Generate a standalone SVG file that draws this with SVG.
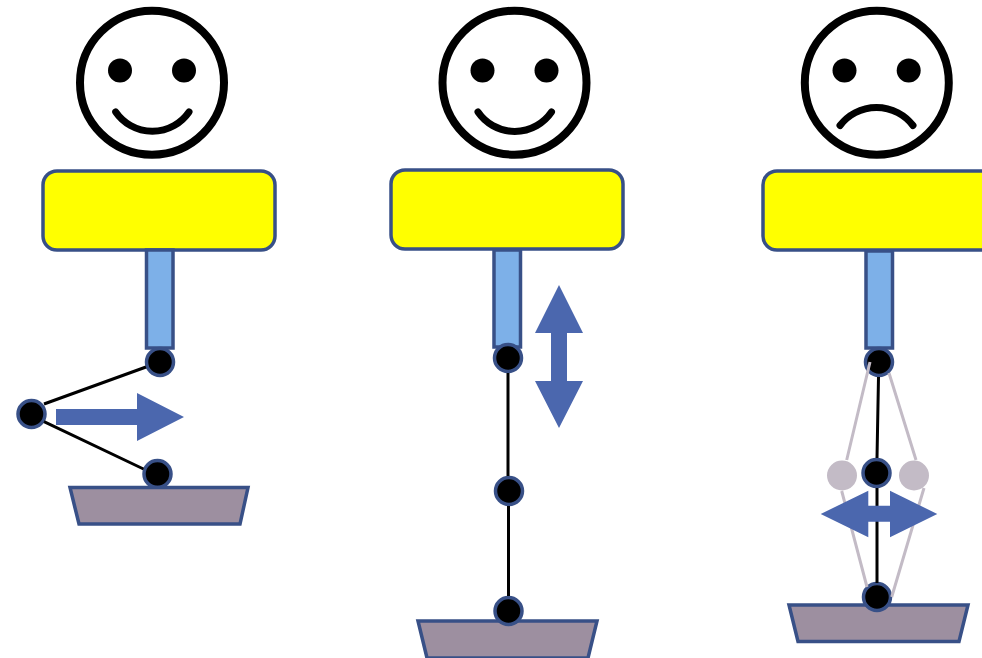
<svg xmlns="http://www.w3.org/2000/svg" width="982" height="658" viewBox="0 0 982 658">
<style>
.head{fill:none;stroke:#000;stroke-width:8}
.eye{fill:#000}
.mouth{fill:none;stroke:#000;stroke-width:7;stroke-linecap:round}
.body{fill:#ff0;stroke:#385087;stroke-width:3.5}
.shaft{fill:#7DB0E8;stroke:#385087;stroke-width:3.500}
.joint{fill:#000;stroke:#385087;stroke-width:3.500}
.ghost{fill:#C3BBC6}
.base{fill:#9D8FA0;stroke:#385087;stroke-width:3.500}
.arrow{fill:#4B67AE}
.link{fill:none;stroke:#000;stroke-width:3}
.glink{fill:none;stroke:#C3BBC6;stroke-width:3}
</style>
<rect width="982" height="658" fill="#fff"/>
<g id="face-1"><circle class="head" cx="152" cy="82.700" r="72"/><circle class="eye" cx="120" cy="70.500" r="12"/><circle class="eye" cx="184" cy="70.500" r="12"/><path class="mouth" d="M115.700 112A44.500 44.500 0 0 0 189 112"/></g>
<g id="face-2"><circle class="head" cx="514.500" cy="82.700" r="72"/><circle class="eye" cx="482.500" cy="70.500" r="12"/><circle class="eye" cx="546.500" cy="70.500" r="12"/><path class="mouth" d="M478 112A44.500 44.500 0 0 0 551.500 112"/></g>
<g id="face-3"><circle class="head" cx="876.800" cy="82.700" r="72"/><circle class="eye" cx="844.500" cy="70.500" r="12"/><circle class="eye" cx="908.700" cy="70.500" r="12"/><path class="mouth" d="M840 125.500A46 46 0 0 1 913 125.500"/></g>

<g id="body-1"><rect class="body" x="43" y="171" width="232" height="79" rx="14"/></g>
<g id="body-2"><rect class="body" x="391" y="170" width="232" height="79" rx="14"/></g>
<g id="body-3"><rect class="body" x="763" y="171" width="232" height="79" rx="14"/></g>

<g id="shaft-1"><rect class="shaft" x="146.500" y="250" width="26.500" height="98"/></g>
<g id="shaft-2"><rect class="shaft" x="494" y="250" width="26.500" height="97"/></g>
<g id="shaft-3"><rect class="shaft" x="866" y="251" width="26.500" height="97"/></g>

<g id="joint-1a"><circle class="joint" cx="160" cy="362" r="13.500"/></g>
<g id="joint-1b"><circle class="joint" cx="31.500" cy="414" r="13.500"/></g>
<g id="joint-1c"><circle class="joint" cx="157.500" cy="474" r="13.500"/></g>
<g id="base-1"><polygon class="base" points="70,487.500 248,487.500 240,524 79,524"/></g>

<g id="base-2"><polygon class="base" points="418,621 597,621 588,658 427,658"/></g>
<g id="joint-2a"><circle class="joint" cx="508" cy="358" r="13.500"/></g>
<g id="joint-2b"><circle class="joint" cx="509" cy="491" r="13.500"/></g>
<g id="joint-2c"><circle class="joint" cx="508.500" cy="611" r="13.500"/></g>

<g id="base-3"><polygon class="base" points="789,605 968,605 959,641.500 798,641.500"/></g>
<g id="ghost-left"><circle class="ghost" cx="842" cy="475.500" r="15"/></g>
<g id="ghost-right"><circle class="ghost" cx="914" cy="475.500" r="15"/></g>
<g id="joint-3a"><circle class="joint" cx="879" cy="362" r="13.500"/></g>
<g id="joint-3b"><circle class="joint" cx="876.500" cy="473" r="13.500"/></g>
<g id="joint-3c"><circle class="joint" cx="877" cy="597" r="13.500"/></g>

<g id="connectors">
<path class="link" d="M44 404L146 367M44 421.700L143.500 469"/>
<path class="link" d="M508 373V476M508.500 506V596"/>
<path class="glink" d="M870 362L846.700 460M889 373L916 460M841.700 491L867 587M924 488L891.700 597"/>
<path class="link" d="M878.500 377L877 458M877 488V583"/>
</g>

<g id="arrow-1"><polygon class="arrow" points="56,409 137,409 137,393 184,417 137,441 137,425 56,425"/></g>
<g id="arrow-2"><polygon class="arrow" points="559,285 583,333 567,333 567,381 583,381 559,428 535,381 551,381 551,333 535,333"/></g>
<g id="arrow-3"><polygon class="arrow" points="820.700,514 868.300,490.700 868.300,505.700 890,505.700 890,490.700 937.300,514 890,537.300 890,521.700 868.300,521.700 868.300,537.300"/></g>
</svg>
